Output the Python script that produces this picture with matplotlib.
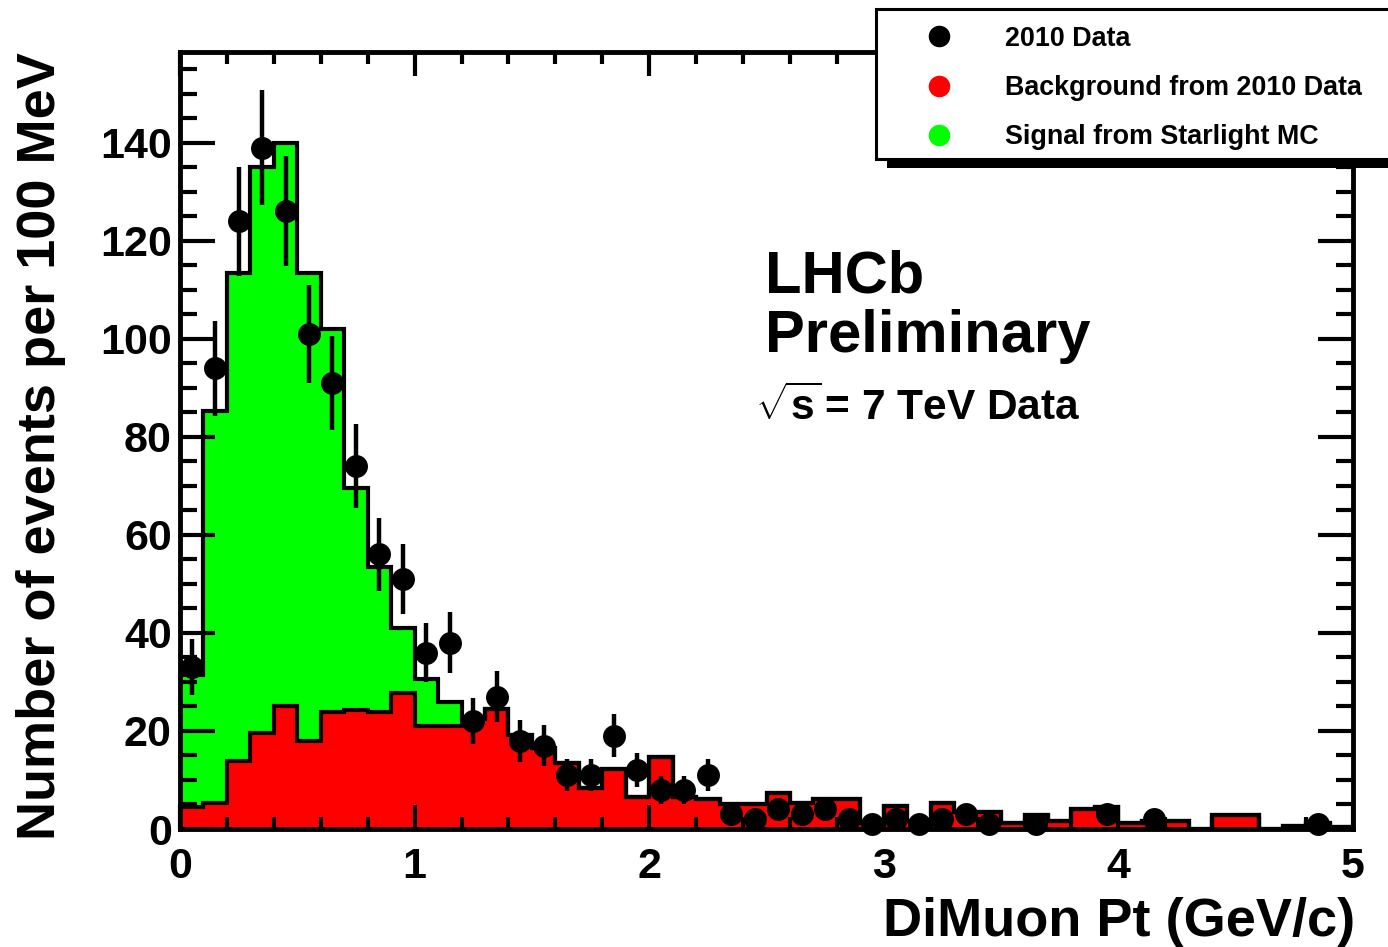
import numpy as np
import matplotlib.pyplot as plt
from matplotlib.ticker import MultipleLocator
from matplotlib.patches import Rectangle
from matplotlib.lines import Line2D

# === Histogram content: 100 MeV bins from 0 to 5 GeV/c ===
bin_edges = np.round(np.arange(0, 5.01, 0.1), 2)

# Background estimated from 2010 data
background = np.array([
    4.5, 5.3, 13.8, 19.6, 25.0, 18.0, 23.8, 24.3, 23.8, 27.8,
    21.0, 21.0, 22.5, 24.5, 19.2, 16.5, 13.5, 8.3, 12.2, 6.5,
    14.6, 6.6, 6.2, 5.2, 5.2, 7.3, 5.3, 6.1, 6.1, 1.2,
    4.7, 1.6, 5.3, 3.5, 3.5, 1.3, 2.9, 1.6, 4.1, 4.4,
    1.3, 1.6, 1.6, 0.0, 2.9, 2.9, 0.0, 0.6, 1.2, 0.4,
])

# Starlight MC signal, stacked on top of the background
signal = np.array([
    27.0, 80.0, 99.7, 115.4, 115.0, 95.5, 78.2, 45.3, 29.7, 13.2,
    9.5, 5.0, 0, 0, 0, 0, 0, 0, 0, 0,
    0, 0, 0, 0, 0, 0, 0, 0, 0, 0,
    0, 0, 0, 0, 0, 0, 0, 0, 0, 0,
    0, 0, 0, 0, 0, 0, 0, 0, 0, 0,
])

# 2010 data counts (nan = empty bin, not drawn)
data_counts = np.array([
    33, 94, 124, 139, 126, 101, 91, 74, 56, 51,
    36, 38, 22, 27, 18, 17, 11, 11, 19, 12,
    8, 8, 11, 3, 2, 4, 3, 4, 2, 1,
    2, 1, 2, 3, 1, np.nan, 1, np.nan, np.nan, 3,
    np.nan, 2, np.nan, np.nan, np.nan, np.nan, np.nan, np.nan, 1, np.nan,
])

legend_labels = ["2010 Data", "Background from 2010 Data", "Signal from Starlight MC"]
legend_colors = ["black", "#ff0000", "#00ff00"]

# === Style ===
plt.rcParams['font.family'] = ['Liberation Sans', 'DejaVu Sans']
plt.rcParams['font.weight'] = 'bold'
plt.rcParams['axes.labelweight'] = 'bold'
plt.rcParams['mathtext.fontset'] = 'custom'
plt.rcParams['mathtext.rm'] = 'Liberation Sans:bold'
plt.rcParams['mathtext.it'] = 'Liberation Sans:bold'
plt.rcParams['mathtext.bf'] = 'Liberation Sans:bold'

W, H = 1388, 947
fig = plt.figure(figsize=(W / 100, H / 100), dpi=100)
ax = fig.add_axes([180 / W, 1 - 829 / H, 1173 / W, 777 / H])

stack_top = background + signal
centers = 0.5 * (bin_edges[:-1] + bin_edges[1:])

# stacked histograms: filled, then black outlines
ax.stairs(stack_top, bin_edges, fill=True, color='#00ff00', lw=0, zorder=1)
ax.stairs(background, bin_edges, fill=True, color='#ff0000', lw=0, zorder=1.1)
ax.stairs(stack_top, bin_edges, baseline=0, color='black', lw=3, zorder=1.2)
ax.stairs(background, bin_edges, baseline=0, color='black', lw=3, zorder=1.3)

# data points with Poisson errors
ok = ~np.isnan(data_counts)
eb = ax.errorbar(centers[ok], data_counts[ok], yerr=np.sqrt(data_counts[ok]),
                 fmt='o', color='black', ms=15.5, elinewidth=3.2, capsize=0,
                 zorder=4)
for art in eb.get_children():
    art.set_clip_on(False)

ax.set_xlim(0, 5)
ax.set_ylim(0, 158.5)
ax.xaxis.set_major_locator(MultipleLocator(1))
ax.xaxis.set_minor_locator(MultipleLocator(0.2))
ax.yaxis.set_major_locator(MultipleLocator(20))
ax.yaxis.set_minor_locator(MultipleLocator(5))

ax.tick_params(axis='both', which='both', direction='in', top=True, right=True,
               width=3, labelsize=31)
ax.tick_params(axis='y', which='major', length=25, pad=6)
ax.tick_params(axis='y', which='minor', length=12)
ax.tick_params(axis='x', which='major', length=17, pad=13)
ax.tick_params(axis='x', which='minor', length=8.5)
for sp in ax.spines.values():
    sp.set_linewidth(3.5)

ax.set_ylabel("Number of events per 100 MeV", fontsize=39, fontweight='bold', loc='top')
ax.yaxis.set_label_coords(-0.097, 1.0)
ax.set_xlabel("DiMuon Pt (GeV/c)", fontsize=39, fontweight='bold', loc='right')
ax.xaxis.set_label_coords(1.002, -0.087)

fig.text(765 / W, 1 - 292 / H, "LHCb", fontsize=43, va='baseline')
fig.text(765 / W, 1 - 352 / H, "Preliminary", fontsize=43, va='baseline')
fig.text(755 / W, 1 - 420 / H, r"$\sqrt{\mathrm{s}}\!$ = 7 TeV Data", fontsize=30.5, va='baseline')

# === Legend box with ROOT-like drop shadow ===
fig.add_artist(Rectangle((887 / W, 1 - 168 / H), (1400 - 887) / W, (168 - 20) / H,
                         transform=fig.transFigure, facecolor='black',
                         edgecolor='none', zorder=5))
fig.add_artist(Rectangle((876 / W, 1 - 159 / H), (1400 - 876) / W, (159 - 9) / H,
                         transform=fig.transFigure, facecolor='white',
                         edgecolor='black', lw=2.2, zorder=6))
for i, (lab, col) in enumerate(zip(legend_labels, legend_colors)):
    yc = 36.5 + 49.3 * i
    fig.add_artist(Line2D([939 / W], [1 - yc / H], marker='o', ms=14.5,
                          color=col, transform=fig.transFigure, zorder=7))
    fig.text(1005 / W, 1 - (yc + 9) / H, lab, fontsize=19.4, va='baseline', zorder=7)

fig.savefig("out.png", dpi=100)
